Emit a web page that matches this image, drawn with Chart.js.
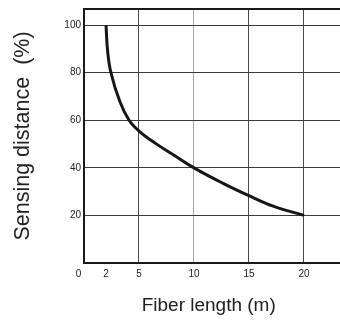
<!DOCTYPE html>
<html>
<head>
<meta charset="utf-8">
<script src="https://cdn.jsdelivr.net/npm/chart.js@4/dist/chart.umd.min.js"></script>
<style>
  html, body { margin: 0; padding: 0; background: #fff; overflow: hidden; }
  #wrap { position: relative; width: 344px; height: 328px; }
</style>
</head>
<body>
<div id="wrap"><canvas id="chart"></canvas></div>
<script>
// Values
const fiberLength = [2, 2.15, 2.45, 3.25, 4.1, 5, 6.5, 8.3, 10, 12.6, 15, 17.2, 20];
const sensingDistance = [100, 89, 80, 68, 60, 55.5, 50.3, 45, 40, 33.6, 28.3, 23.9, 20];

// Axis ticks
const xTicks = [0, 2, 5, 10, 15, 20];
const xGridValues = [5, 15, 20];
const yTicks = [20, 40, 60, 80, 100];
const xMax = 23.64;
const yMax = 106.8;

const tickFont = { family: '"Liberation Sans", Arial, sans-serif', size: 10 };
const xTitleFont = { family: '"Liberation Sans", Arial, sans-serif', size: 19 };
const yTitleFont = { family: '"Liberation Sans", Arial, sans-serif', size: 21.5 };

new Chart(document.getElementById('chart'), {
  type: 'line',
  data: {
    datasets: [{
      data: fiberLength.map((x, i) => ({ x, y: sensingDistance[i] })),
      borderColor: '#161616',
      borderWidth: 3,
      pointRadius: 0,
      tension: 0.4,
      fill: false
    }]
  },
  options: {
    responsive: true,
    maintainAspectRatio: false,
    animation: false,
    layout: { padding: { top: 5, right: 0, left: 0, bottom: 0 } },
    plugins: { legend: { display: false }, tooltip: { enabled: false } },
    scales: {
      x: {
        type: 'linear',
        min: 0,
        max: xMax,
        afterBuildTicks: (scale) => { scale.ticks = xTicks.map(v => ({ value: v })); },
        afterFit: (scale) => { scale.height = 65; },
        ticks: {
          font: tickFont,
          color: '#222',
          padding: 5,
          maxRotation: 0,
          autoSkip: false,
          // nudge the origin label left, as in the reference
          callback: (v) => (v === 0 ? '0    ' : String(v))
        },
        grid: {
          drawTicks: false,
          lineWidth: 1,
          color: (ctx) => {
            const v = ctx.tick ? ctx.tick.value : null;
            if (v === 10) return '#a8a8a8';
            return xGridValues.includes(v) ? '#4a4a4a' : 'rgba(0,0,0,0)';
          }
        },
        border: { display: true, color: '#1a1a1a', width: 2 },
        title: {
          display: true,
          text: 'Fiber length (m)  ',
          font: xTitleFont,
          color: '#222',
          padding: { top: 0, bottom: 11 }
        }
      },
      y: {
        min: 0,
        max: yMax,
        afterBuildTicks: (scale) => { scale.ticks = yTicks.concat([yMax]).map(v => ({ value: v })); },
        afterFit: (scale) => { scale.width = 84; },
        ticks: {
          font: tickFont,
          color: '#222',
          padding: 3,
          callback: (v) => (v === yMax ? '' : String(v))
        },
        grid: {
          drawTicks: false,
          lineWidth: (ctx) => (ctx.tick && ctx.tick.value === yMax ? 2 : 1),
          color: (ctx) => (ctx.tick && ctx.tick.value === yMax ? '#1a1a1a' : '#3a3a3a')
        },
        border: { display: true, color: '#1a1a1a', width: 2 },
        title: {
          display: true,
          text: 'Sensing distance  (%)',
          font: yTitleFont,
          color: '#222',
          padding: { top: 10, bottom: 0 }
        }
      }
    }
  }
});
</script>
</body>
</html>
